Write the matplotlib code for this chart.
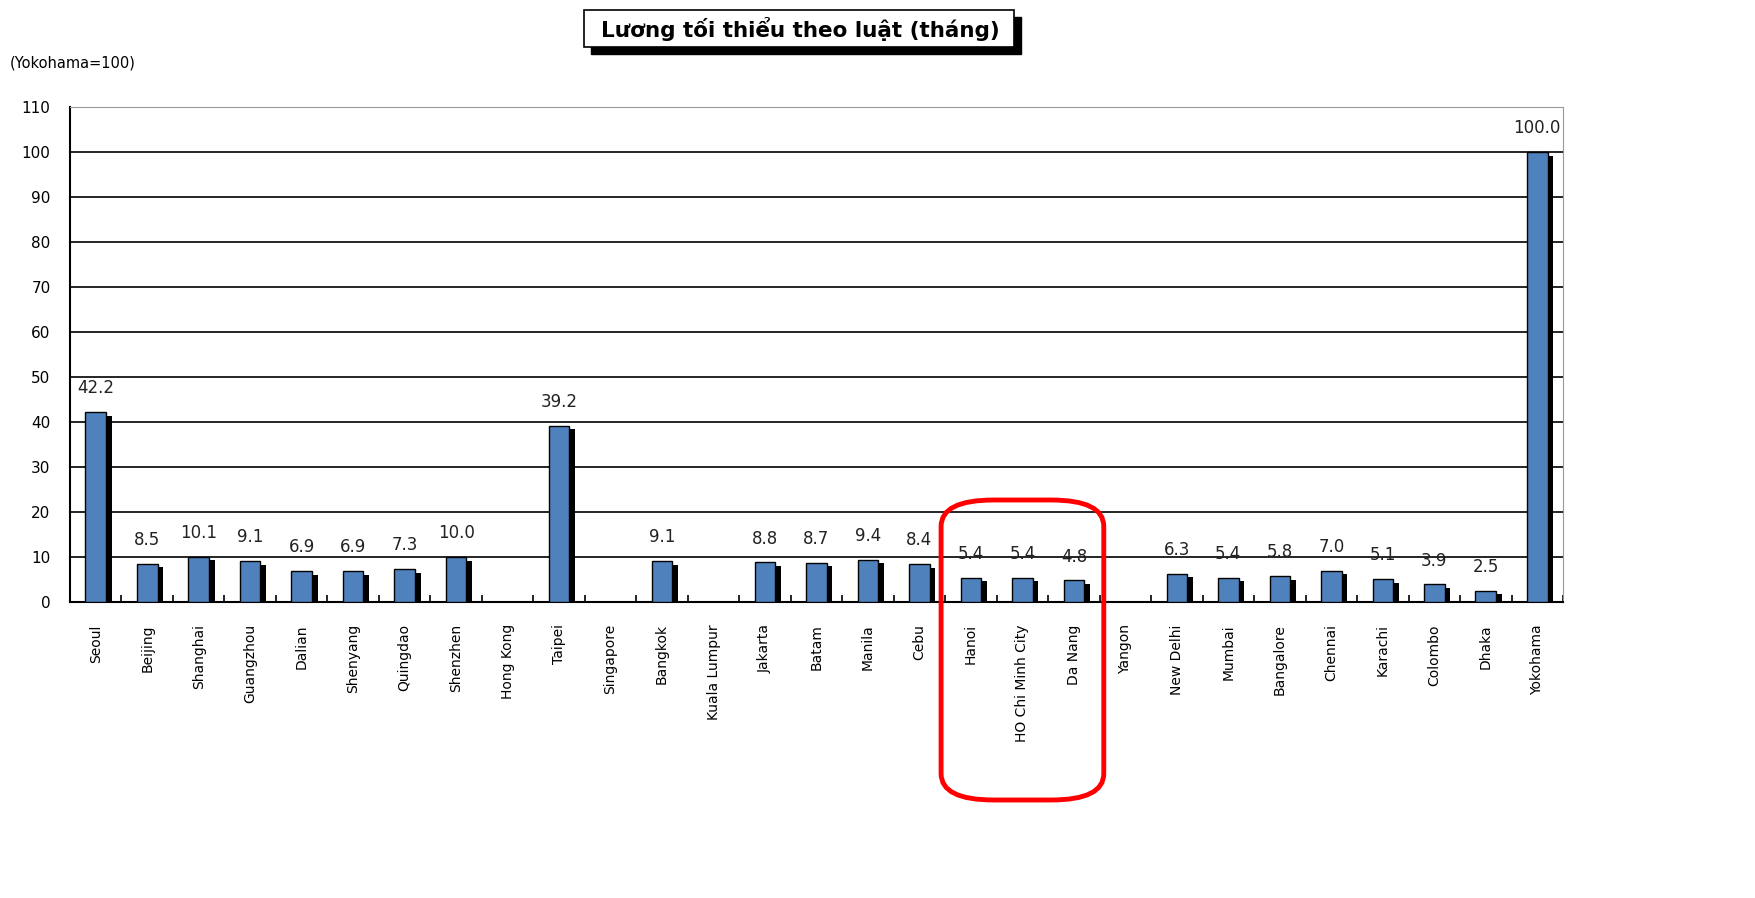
import numpy as np
import matplotlib.pyplot as plt
from matplotlib.patches import FancyBboxPatch, Rectangle

cities = ["Seoul", "Beijing", "Shanghai", "Guangzhou", "Dalian", "Shenyang",
          "Quingdao", "Shenzhen", "Hong Kong", "Taipei", "Singapore", "Bangkok",
          "Kuala Lumpur", "Jakarta", "Batam", "Manila", "Cebu", "Hanoi",
          "HO Chi Minh City", "Da Nang", "Yangon", "New Delhi", "Mumbai",
          "Bangalore", "Chennai", "Karachi", "Colombo", "Dhaka", "Yokohama"]
values = [42.2, 8.5, 10.1, 9.1, 6.9, 6.9, 7.3, 10.0, np.nan, 39.2, np.nan, 9.1,
          np.nan, 8.8, 8.7, 9.4, 8.4, 5.4, 5.4, 4.8, np.nan, 6.3, 5.4, 5.8,
          7.0, 5.1, 3.9, 2.5, 100.0]
highlight = ["Hanoi", "HO Chi Minh City", "Da Nang"]
yticks = list(range(0, 111, 10))

plt.rcParams['font.family'] = ['DejaVu Sans']

fig = plt.figure(figsize=(17.56, 8.98), dpi=100)
ax = fig.add_axes([70 / 1756, 1 - 602 / 898, (1563 - 70) / 1756, (602 - 107) / 898])

x = np.arange(len(cities))
vals = np.array(values)
w = 0.4

# shadow bars, then the blue bars on top
ax.bar(x + 0.11, vals - 0.8, width=w, color="black", zorder=2)
ax.bar(x, vals, width=w, color="#4f81bd", edgecolor="black", linewidth=1.0, zorder=3)

for xi, v in zip(x, vals):
    if np.isnan(v):
        continue
    ax.text(xi, v + 3.3, f"{v:.1f}", ha="center", va="bottom", fontsize=12, color="#222222")

ax.set_xlim(-0.5, len(cities) - 0.5)
ax.set_ylim(0, 110)
ax.set_yticks(yticks)
ax.set_yticklabels([str(t) for t in yticks], fontsize=11)
ax.yaxis.grid(True, color="black", linewidth=1.2, zorder=1)
ax.set_axisbelow(True)

ax.set_xticks(x)
ax.set_xticklabels(cities, rotation=90, fontsize=10)
ax.tick_params(axis="x", length=0, pad=16)
ax.set_xticks(np.arange(len(cities) + 1) - 0.5, minor=True)
ax.tick_params(axis="x", which="minor", length=5, direction="in", width=1.2)
ax.tick_params(axis="y", length=0, pad=14)

ax.spines["left"].set_linewidth(1.5)
ax.spines["bottom"].set_linewidth(1.5)
ax.spines["top"].set_color("#999999")
ax.spines["right"].set_color("#999999")

# title box with shadow
fig.patches.append(Rectangle((591 / 1756, 1 - 54 / 898), 430 / 1756, 37 / 898,
                             transform=fig.transFigure, facecolor="black",
                             edgecolor="black"))
fig.patches.append(Rectangle((584 / 1756, 1 - 47 / 898), 430 / 1756, 37 / 898,
                             transform=fig.transFigure, facecolor="white",
                             edgecolor="black", linewidth=1.2))
fig.text(800 / 1756, 1 - 29 / 898, "Lương tối thiểu theo luật (tháng)",
         ha="center", va="center", fontsize=15.5, fontweight="bold")

fig.text(10 / 1756, 1 - 63 / 898, "(Yokohama=100)", ha="left", va="center",
         fontsize=10.5)

# red rounded frame around the Vietnamese cities
i0 = cities.index(highlight[0])
i1 = cities.index(highlight[-1])
x0 = fig.transFigure.inverted().transform(ax.transData.transform((i0 - 0.58, 0)))[0]
x1 = fig.transFigure.inverted().transform(ax.transData.transform((i1 + 0.58, 0)))[0]
fig.patches.append(FancyBboxPatch((x0, 1 - 800 / 898), x1 - x0, 300 / 898,
                                  boxstyle="round,pad=0,rounding_size=0.03",
                                  transform=fig.transFigure, facecolor="none",
                                  edgecolor="red", linewidth=3.5,
                                  mutation_aspect=1756 / 898 * 0.5))

fig.savefig("out.png", dpi=100)
